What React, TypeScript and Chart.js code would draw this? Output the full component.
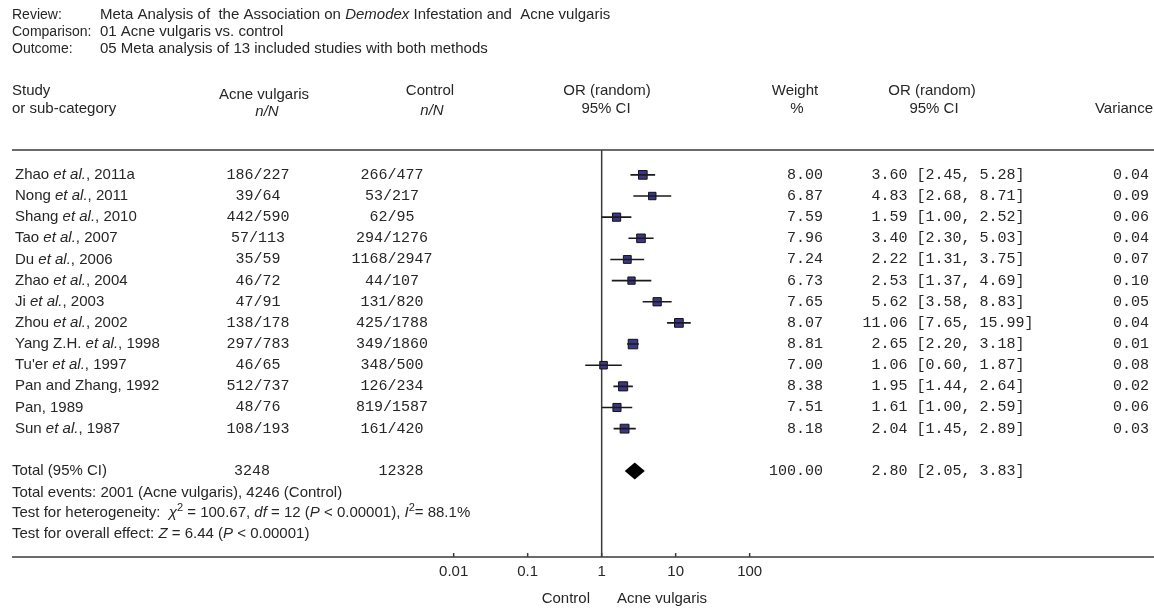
import React, { useEffect, useRef } from "react";
import { Chart, registerables } from "chart.js";

Chart.register(...registerables);

// ---------------- data ----------------
const studies = [
  "Zhao et al., 2011a",
  "Nong et al., 2011",
  "Shang et al., 2010",
  "Tao et al., 2007",
  "Du et al., 2006",
  "Zhao et al., 2004",
  "Ji et al., 2003",
  "Zhou et al., 2002",
  "Yang Z.H. et al., 1998",
  "Tu'er et al., 1997",
  "Pan and Zhang, 1992",
  "Pan, 1989",
  "Sun et al., 1987",
];
const acneNN = ["186/227", "39/64", "442/590", "57/113", "35/59", "46/72", "47/91", "138/178", "297/783", "46/65", "512/737", "48/76", "108/193"];
const controlNN = ["266/477", "53/217", "62/95", "294/1276", "1168/2947", "44/107", "131/820", "425/1788", "349/1860", "348/500", "126/234", "819/1587", "161/420"];
const orValues = [3.6, 4.83, 1.59, 3.4, 2.22, 2.53, 5.62, 11.06, 2.65, 1.06, 1.95, 1.61, 2.04];
const ciLower = [2.45, 2.68, 1.0, 2.3, 1.31, 1.37, 3.58, 7.65, 2.2, 0.6, 1.44, 1.0, 1.45];
const ciUpper = [5.28, 8.71, 2.52, 5.03, 3.75, 4.69, 8.83, 15.99, 3.18, 1.87, 2.64, 2.59, 2.89];
const weights = [8.0, 6.87, 7.59, 7.96, 7.24, 6.73, 7.65, 8.07, 8.81, 7.0, 8.38, 7.51, 8.18];
const variances = [0.04, 0.09, 0.06, 0.04, 0.07, 0.1, 0.05, 0.04, 0.01, 0.08, 0.02, 0.06, 0.03];

const totalAcne = "3248";
const totalControl = "12328";
const totalOR = 2.8;
const totalLower = 2.05;
const totalUpper = 3.83;
const totalWeight = 100.0;

const axisTicks = [0.01, 0.1, 1, 10, 100];
const axisTickLabels = ["0.01", "0.1", "1", "10", "100"];

const titleLabels = ["Review:", "Comparison:", "Outcome:"];
const comparisonText = "01 Acne vulgaris vs. control";
const outcomeText = "05 Meta analysis of 13 included studies with both methods";

// ---------------- layout ----------------
const W = 1154;
const H = 608;
const ROW0 = 171.5;
const ROW_H = 21.7;
const PX_ONE = 602;
const PX_DEC = 75;
const TOTAL_ROW = 14;

const SANS = '"Liberation Sans", Arial, sans-serif';
const MONO = '"Liberation Mono", "Courier New", monospace';
const SANS_SIZE = 15;
const MONO_SIZE = 15;
const TEXT = "#262626";
const LINE = "#3a3a3a";

type Kind = "n" | "i" | "sup" | "m" | "s";
type Seg = [string, Kind];

function fontOf(kind: Kind) {
  if (kind === "i") return `italic ${SANS_SIZE}px ${SANS}`;
  if (kind === "sup") return `${Math.round(SANS_SIZE * 0.75)}px ${SANS}`;
  if (kind === "m") return `${MONO_SIZE}px ${MONO}`;
  if (kind === "s") return `14px ${SANS}`;
  return `${SANS_SIZE}px ${SANS}`;
}

function drawRich(ctx: CanvasRenderingContext2D, segs: Seg[], x: number, y: number, align: "left" | "center" | "right") {
  ctx.textAlign = "left";
  ctx.textBaseline = "middle";
  const widths = segs.map(([t, k]) => {
    ctx.font = fontOf(k);
    return ctx.measureText(t).width;
  });
  const total = widths.reduce((a, b) => a + b, 0);
  let cx = align === "left" ? x : align === "center" ? x - total / 2 : x - total;
  segs.forEach(([t, k], idx) => {
    ctx.font = fontOf(k);
    ctx.fillText(t, cx, k === "sup" ? y - 5 : y);
    cx += widths[idx];
  });
}

function studySegs(name: string): Seg[] {
  const p = name.indexOf("et al.");
  if (p < 0) return [[name, "n"]];
  return [
    [name.slice(0, p), "n"],
    ["et al.", "i"],
    [name.slice(p + 6), "n"],
  ];
}

const ciText = (o: number, l: number, u: number) => `${o.toFixed(2)} [${l.toFixed(2)}, ${u.toFixed(2)}]`;

const forestPlugin = {
  id: "forestText",
  beforeDatasetsDraw(chart: any) {
    const ctx: CanvasRenderingContext2D = chart.ctx;
    const xs = chart.scales.x;
    const x1 = xs.getPixelForValue(1);
    const axisY = 557;
    ctx.save();
    ctx.strokeStyle = LINE;
    ctx.lineWidth = 1.5;
    ctx.beginPath();
    ctx.moveTo(12, 150);
    ctx.lineTo(W, 150);
    ctx.stroke();
    ctx.beginPath();
    ctx.moveTo(x1, 150);
    ctx.lineTo(x1, axisY);
    ctx.stroke();
    ctx.beginPath();
    ctx.moveTo(12, axisY);
    ctx.lineTo(W, axisY);
    ctx.stroke();
    axisTicks.forEach((v) => {
      const px = xs.getPixelForValue(v);
      ctx.beginPath();
      ctx.moveTo(px, axisY - 4);
      ctx.lineTo(px, axisY);
      ctx.stroke();
    });
    ctx.restore();
  },
  afterDatasetsDraw(chart: any) {
    const ctx: CanvasRenderingContext2D = chart.ctx;
    const xs = chart.scales.x;
    const ys = chart.scales.y;
    ctx.save();
    const yT = ys.getPixelForValue(TOTAL_ROW);
    ctx.fillStyle = "#000";
    ctx.beginPath();
    ctx.moveTo(xs.getPixelForValue(totalLower), yT);
    ctx.lineTo(xs.getPixelForValue(totalOR), yT - 8.5);
    ctx.lineTo(xs.getPixelForValue(totalUpper), yT);
    ctx.lineTo(xs.getPixelForValue(totalOR), yT + 8.5);
    ctx.closePath();
    ctx.fill();

    ctx.fillStyle = TEXT;
    const titleY = [15, 32, 49];
    titleLabels.forEach((t, i) => drawRich(ctx, [[t, "s"]], 12, titleY[i], "left"));
    drawRich(ctx, [["Meta Analysis of  the Association on ", "n"], ["Demodex", "i"], [" Infestation and  Acne vulgaris", "n"]], 100, titleY[0], "left");
    drawRich(ctx, [[comparisonText, "n"]], 100, titleY[1], "left");
    drawRich(ctx, [[outcomeText, "n"]], 100, titleY[2], "left");

    const h1 = 91;
    const h2 = 109;
    drawRich(ctx, [["Study", "n"]], 12, h1, "left");
    drawRich(ctx, [["or sub-category", "n"]], 12, h2, "left");
    drawRich(ctx, [["Acne vulgaris", "n"]], 264, h1 + 4, "center");
    drawRich(ctx, [["n/N", "i"]], 267, h2 + 3, "center");
    drawRich(ctx, [["Control", "n"]], 430, h1, "center");
    drawRich(ctx, [["n/N", "i"]], 432, h2 + 2, "center");
    drawRich(ctx, [["OR (random)", "n"]], 607, h1, "center");
    drawRich(ctx, [["95% CI", "n"]], 606, h2, "center");
    drawRich(ctx, [["Weight", "n"]], 795, h1, "center");
    drawRich(ctx, [["%", "n"]], 797, h2, "center");
    drawRich(ctx, [["OR (random)", "n"]], 932, h1, "center");
    drawRich(ctx, [["95% CI", "n"]], 934, h2, "center");
    drawRich(ctx, [["Variance", "n"]], 1153, h2, "right");

    studies.forEach((name, i) => {
      const y = ys.getPixelForValue(i);
      drawRich(ctx, studySegs(name), 15, y, "left");
      drawRich(ctx, [[acneNN[i], "m"]], 258, y, "center");
      drawRich(ctx, [[controlNN[i], "m"]], 392, y, "center");
      drawRich(ctx, [[weights[i].toFixed(2), "m"]], 823, y, "right");
      drawRich(ctx, [[ciText(orValues[i], ciLower[i], ciUpper[i]), "m"]], 948, y, "center");
      drawRich(ctx, [[variances[i].toFixed(2), "m"]], 1149, y, "right");
    });

    drawRich(ctx, [["Total (95% CI)", "n"]], 12, yT, "left");
    drawRich(ctx, [[totalAcne, "m"]], 252, yT, "center");
    drawRich(ctx, [[totalControl, "m"]], 401, yT, "center");
    drawRich(ctx, [[totalWeight.toFixed(2), "m"]], 823, yT, "right");
    drawRich(ctx, [[ciText(totalOR, totalLower, totalUpper), "m"]], 948, yT, "center");

    drawRich(ctx, [["Total events: 2001 (Acne vulgaris), 4246 (Control)", "n"]], 12, 493, "left");
    drawRich(
      ctx,
      [
        ["Test for heterogeneity:  ", "n"],
        ["χ", "i"],
        ["2", "sup"],
        [" = 100.67, ", "n"],
        ["df", "i"],
        [" = 12 (", "n"],
        ["P", "i"],
        [" < 0.00001), ", "n"],
        ["I", "i"],
        ["2", "sup"],
        ["= 88.1%", "n"],
      ],
      12,
      513,
      "left"
    );
    drawRich(
      ctx,
      [
        ["Test for overall effect: ", "n"],
        ["Z", "i"],
        [" = 6.44 (", "n"],
        ["P", "i"],
        [" < 0.00001)", "n"],
      ],
      12,
      534,
      "left"
    );

    axisTicks.forEach((v, i) => {
      drawRich(ctx, [[axisTickLabels[i], "n"]], xs.getPixelForValue(v), 572, "center");
    });
    drawRich(ctx, [["Control", "n"]], 590, 599, "right");
    drawRich(ctx, [["Acne vulgaris", "n"]], 617, 599, "left");
    ctx.restore();
  },
};

export default function App() {
  const ref = useRef<HTMLCanvasElement | null>(null);

  useEffect(() => {
    if (!ref.current) return;
    const whiskers: { x: number; y: number }[] = [];
    studies.forEach((_, i) => {
      whiskers.push({ x: ciLower[i], y: i });
      whiskers.push({ x: ciUpper[i], y: i });
      whiskers.push({ x: NaN, y: NaN });
    });
    const squares = studies.map((_, i) => ({ x: orValues[i], y: i }));

    const chart = new Chart(ref.current, {
      type: "scatter",
      data: {
        datasets: [
          {
            label: "CI",
            data: whiskers,
            showLine: true,
            spanGaps: false,
            borderColor: "#1a1a1a",
            borderWidth: 1.6,
            pointRadius: 0,
            pointHoverRadius: 0,
          },
          {
            label: "OR",
            data: squares,
            pointStyle: "rect",
            pointRadius: weights.map((w) => (w * 1.08) / Math.SQRT2),
            backgroundColor: "#3b3786",
            borderColor: "#111",
            borderWidth: 1,
          },
        ],
      },
      options: {
        animation: false,
        responsive: false,
        maintainAspectRatio: false,
        devicePixelRatio: 1,
        events: [],
        layout: { padding: 0 },
        plugins: { legend: { display: false }, tooltip: { enabled: false } },
        scales: {
          x: {
            type: "logarithmic",
            display: false,
            bounds: "data",
            min: Math.pow(10, (0 - PX_ONE) / PX_DEC),
            max: Math.pow(10, (W - PX_ONE) / PX_DEC),
          },
          y: {
            type: "linear",
            display: false,
            reverse: true,
            min: -ROW0 / ROW_H,
            max: (H - ROW0) / ROW_H,
          },
        },
      },
      plugins: [forestPlugin],
    });
    return () => chart.destroy();
  }, []);

  return (
    <div style={{ position: "absolute", left: 0, top: 0, width: W, height: H, background: "#fff" }}>
      <canvas ref={ref} width={W} height={H} style={{ width: W, height: H, display: "block" }} />
    </div>
  );
}
